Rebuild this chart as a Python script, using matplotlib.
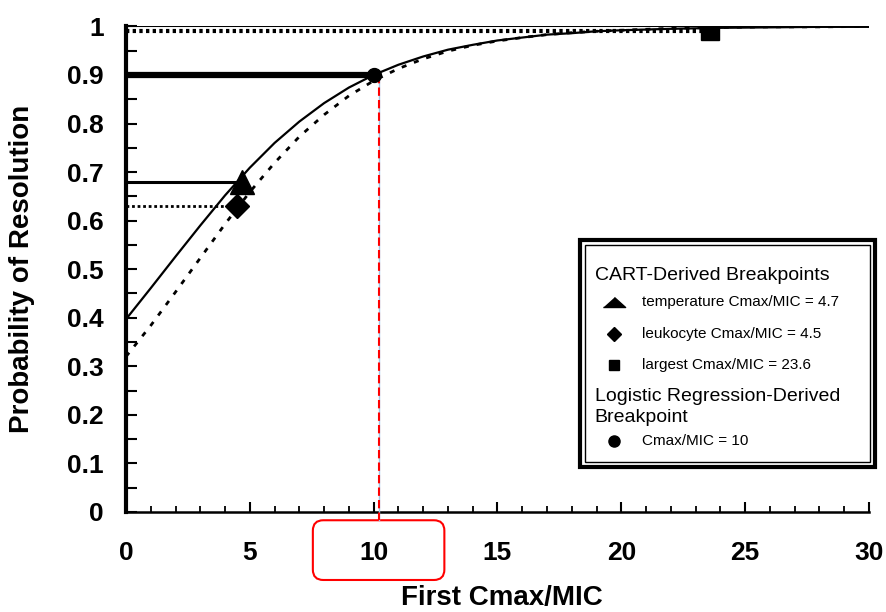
import numpy as np
import matplotlib.pyplot as plt
from matplotlib.patches import FancyBboxPatch, Rectangle

plt.rcParams['font.family'] = ['Liberation Sans', 'DejaVu Sans']

# Probability of resolution
cmax_mic = [0, 1, 2, 3, 4, 5, 6, 7, 8, 9, 10, 11, 12, 13, 14, 15, 16, 17, 18, 19, 20,
            22, 24, 26, 28, 30]
prob_solid = [0.397, 0.461, 0.526, 0.590, 0.652, 0.709, 0.760, 0.804, 0.842, 0.874, 0.900,
              0.921, 0.938, 0.952, 0.962, 0.971, 0.977, 0.983, 0.986, 0.990, 0.992,
              0.995, 0.997, 0.998, 0.999, 0.999]
prob_dotted = [0.320, 0.384, 0.453, 0.523, 0.593, 0.659, 0.719, 0.773, 0.818, 0.857, 0.888,
               0.913, 0.933, 0.949, 0.961, 0.970, 0.977, 0.983, 0.987, 0.990, 0.992,
               0.996, 0.998, 0.999, 0.999, 1.000]

# Breakpoints: temperature, leukocyte, largest (CART) and logistic regression
bp_cmax = [4.7, 4.5, 23.6, 10.0]
bp_prob = [0.68, 0.63, 0.99, 0.90]
bp_legend = ['temperature Cmax/MIC = 4.7', 'leukocyte Cmax/MIC = 4.5',
             'largest Cmax/MIC = 23.6', 'Cmax/MIC = 10']

# highlighted Cmax/MIC value
ref_cmax = 10.2

x_ticks = [0, 5, 10, 15, 20, 25, 30]
x_tick_labels = ['0', '5', '10', '15', '20', '25', '30']
y_ticks = [0, 0.1, 0.2, 0.3, 0.4, 0.5, 0.6, 0.7, 0.8, 0.9, 1.0]
y_tick_labels = ['0', '0.1', '0.2', '0.3', '0.4', '0.5', '0.6', '0.7', '0.8', '0.9', '1']

fig = plt.figure(figsize=(8.86, 6.12), dpi=100)
ax = fig.add_axes([0.1422, 0.1634, 0.8386, 0.7935])

# top reference line at certainty
ax.axhline(1.0, color='black', lw=1.5, zorder=2)

# curves
ax.plot(cmax_mic, prob_solid, color='black', lw=1.6, zorder=3)
ax.plot(cmax_mic, prob_dotted, color='black', lw=2.0, linestyle=(0, (1.8, 2.9)), zorder=3)

# horizontal drop lines to each breakpoint
ax.hlines(bp_prob[0], 0, bp_cmax[0], color='black', lw=2.2, zorder=3)
ax.hlines(bp_prob[1], 0, bp_cmax[1], color='black', lw=2.0, linestyles=(0, (1, 1)), zorder=3)
ax.hlines(bp_prob[2], 0, bp_cmax[2], color='black', lw=3.0, linestyles=(0, (0.8, 0.8)), zorder=3)
ax.hlines(bp_prob[3], 0, bp_cmax[3], color='black', lw=4.5, zorder=3)

# breakpoint markers
ax.plot(bp_cmax[0], bp_prob[0], marker='^', ms=17, color='black', zorder=5)
ax.plot(bp_cmax[1], bp_prob[1], marker='D', ms=12, color='black', zorder=5)
ax.plot(bp_cmax[2], bp_prob[2], marker='s', ms=13.5, color='black', zorder=5)
ax.plot(bp_cmax[3], bp_prob[3], marker='o', ms=10, color='black', zorder=5)

# red dashed marker line down to the axis label
ax.plot([ref_cmax, ref_cmax], [bp_prob[3], -0.017], color='#9ec3e6', lw=1.0,
        clip_on=False, zorder=4)
ax.plot([ref_cmax, ref_cmax], [bp_prob[3], -0.017], color='red', lw=1.5,
        linestyle=(0, (4, 2)), clip_on=False, zorder=4)

# rounded red box around the tick label
box_w = 0.177
box_cx = ref_cmax / 30.0
ax.add_patch(FancyBboxPatch((box_cx - box_w / 2, -0.140), box_w, 0.123,
                            boxstyle='round,pad=0,rounding_size=0.014',
                            mutation_aspect=1.53, transform=ax.transAxes,
                            facecolor='none', edgecolor='red', lw=1.5, clip_on=False))

ax.set_xlim(0, 30)
ax.set_ylim(0, 1)
ax.set_xticks(x_ticks)
ax.set_xticklabels(x_tick_labels)
ax.set_xticks(np.arange(0, 31, 1), minor=True)
ax.set_yticks(y_ticks)
ax.set_yticklabels(y_tick_labels)
ax.set_yticks(np.arange(0, 1.0001, 0.05), minor=True)

ax.tick_params(axis='x', which='major', direction='in', length=7, width=1.5,
               pad=21, labelsize=19)
ax.tick_params(axis='x', which='minor', direction='in', length=4.5, width=1.3)
ax.tick_params(axis='y', which='both', direction='in', length=8, width=1.5,
               pad=16, labelsize=19)
for lab in ax.get_xticklabels() + ax.get_yticklabels():
    lab.set_fontweight('bold')

for side in ['top', 'right']:
    ax.spines[side].set_visible(False)
ax.spines['left'].set_linewidth(3)
ax.spines['bottom'].set_linewidth(1.8)

ax.set_xlabel('First Cmax/MIC', fontsize=20, fontweight='bold')
ax.set_ylabel('Probability of Resolution', fontsize=20, fontweight='bold')
ax.xaxis.set_label_coords(0.506, -0.15)
ax.yaxis.set_label_coords(-0.122, 0.5)

# legend box drawn by hand: double frame, headings and marker keys
ax.add_patch(Rectangle((0.611, 0.093), 0.397, 0.467, transform=ax.transAxes,
                       facecolor='white', edgecolor='black', lw=3, clip_on=False, zorder=6))
ax.add_patch(Rectangle((0.618, 0.103), 0.383, 0.447, transform=ax.transAxes,
                       facecolor='none', edgecolor='black', lw=1, clip_on=False, zorder=7))

ax.text(0.631, 0.488, 'CART-Derived Breakpoints', transform=ax.transAxes,
        fontsize=14, va='center', ha='left', zorder=8)
ax.text(0.631, 0.237, 'Logistic Regression-Derived', transform=ax.transAxes,
        fontsize=14, va='center', ha='left', zorder=8)
ax.text(0.631, 0.194, 'Breakpoint', transform=ax.transAxes,
        fontsize=14, va='center', ha='left', zorder=8)

key_y = [0.432, 0.367, 0.303, 0.146]
key_markers = [[(-1, -0.45), (1, -0.45), (0, 0.45)], 'D', 's', 'o']
key_sizes = [16, 7.5, 7, 8]
for ky, mk, ms, txt in zip(key_y, key_markers, key_sizes, bp_legend):
    ax.plot(0.657, ky, marker=mk, ms=ms, color='black', transform=ax.transAxes,
            clip_on=False, zorder=8)
    ax.text(0.6945, ky, txt, transform=ax.transAxes, fontsize=11,
            va='center', ha='left', zorder=8)

fig.savefig('out.png', dpi=100)
